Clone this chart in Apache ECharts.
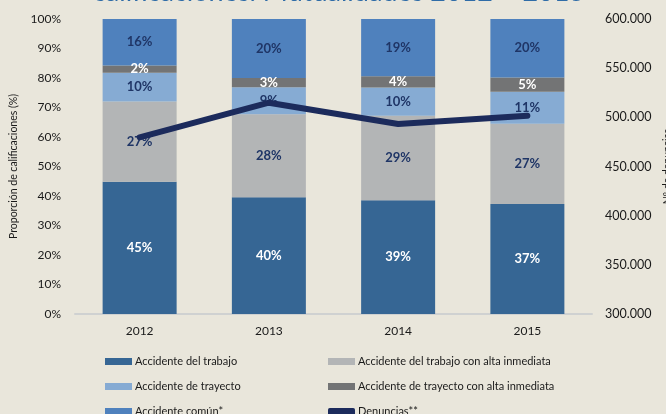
<!DOCTYPE html>
<html>
<head>
<meta charset="utf-8">
<script src="https://cdn.jsdelivr.net/npm/echarts@6/dist/echarts.min.js"></script>
<style>
html,body{margin:0;padding:0;background:#e9e6db;}
#c{width:666px;height:414px;}
</style>
</head>
<body>
<div id="c"></div>
<script>
const years = ['2012', '2013', '2014', '2015'];
const accTrabajo = [44.8, 39.6, 38.6, 37.3];
const accTrabajoAlta = [27.2, 28.1, 28.6, 27.2];
const accTrayecto = [9.8, 9.2, 9.6, 10.8];
const accTrayectoAlta = [2.4, 3.1, 3.8, 4.9];
const accComun = [15.8, 20.0, 19.4, 19.8];
const denuncias = [479700, 514900, 493200, 501700];
const leftTicks = {min: 0, max: 100, interval: 10};
const rightTicks = {min: 300000, max: 600000, interval: 50000};
const titleText = 'calificaciones. Mutualidades 2012 – 2015';

const FONT = 'Lato';
const navy = '#1f3566';

function barSeries(name, data, color, labelColor) {
  return {
    name: name, type: 'bar', stack: 'total', data: data, barWidth: 74,
    itemStyle: {color: color},
    label: {
      show: true, position: 'inside', color: labelColor,
      fontFamily: FONT, fontWeight: 'bold', fontSize: 13,
      formatter: p => Math.round(p.value) + '%'
    },
    z: 2
  };
}

const legendText = {fontFamily: FONT, fontSize: 11, color: '#1a1a1a', lineHeight: 15, padding: [0, 0, 0, -2]};

const chart = echarts.init(document.getElementById('c'));
chart.setOption({
  backgroundColor: '#e9e6db',
  animation: false,
  graphic: [{
    type: 'text', x: 339, y: -21, z: 100,
    style: {
      text: titleText, fill: '#2f6ca7',
      font: 'normal 27px Lato', align: 'center', verticalAlign: 'top'
    }
  }],
  grid: {left: 75, right: 74, top: 19, bottom: 100, containLabel: false, outerBoundsMode: 'none'},
  xAxis: {
    type: 'category', data: years,
    axisLine: {lineStyle: {color: '#cfd1d1', width: 2}},
    axisTick: {show: false},
    axisLabel: {fontFamily: FONT, fontSize: 12, color: '#1a1a1a', margin: 11}
  },
  yAxis: [
    {
      type: 'value', min: leftTicks.min, max: leftTicks.max, interval: leftTicks.interval,
      name: 'Proporción de calificaciones (%)', nameLocation: 'middle', nameGap: 49,
      nameTextStyle: {fontFamily: FONT, fontSize: 10.5, color: '#1a1a1a'},
      axisLine: {show: false}, axisTick: {show: false}, splitLine: {show: false},
      axisLabel: {fontFamily: FONT, fontSize: 12, color: '#1a1a1a', margin: 14, formatter: '{value}%'}
    },
    {
      type: 'value', min: rightTicks.min, max: rightTicks.max, interval: rightTicks.interval,
      name: 'Nº de denuncias', nameLocation: 'middle', nameGap: 66,
      nameTextStyle: {fontFamily: FONT, fontSize: 10.5, color: '#1a1a1a'},
      axisLine: {show: false}, axisTick: {show: false}, splitLine: {show: false},
      axisLabel: {fontFamily: FONT, fontSize: 12.5, color: '#1a1a1a', margin: 13,
        formatter: v => String(v).replace(/\B(?=(\d{3})+(?!\d))/g, '.')}
    }
  ],
  legend: [
    {
      orient: 'vertical', left: 100, top: 349, height: 120, itemWidth: 27, itemHeight: 7, itemGap: 10,
      icon: 'rect', textStyle: legendText,
      data: ['Accidente del trabajo', 'Accidente de trayecto', 'Accidente común*']
    },
    {
      orient: 'vertical', left: 323, top: 349, height: 120, itemWidth: 27, itemHeight: 7, itemGap: 10,
      icon: 'rect', textStyle: legendText,
      data: ['Accidente del trabajo con alta inmediata', 'Accidente de trayecto con alta inmediata',
        {name: 'Denuncias**', icon: 'roundRect'}]
    }
  ],
  series: [
    barSeries('Accidente del trabajo', accTrabajo, '#366694', '#ffffff'),
    barSeries('Accidente del trabajo con alta inmediata', accTrabajoAlta, '#b3b5b6', navy),
    barSeries('Accidente de trayecto', accTrayecto, '#86abd3', navy),
    barSeries('Accidente de trayecto con alta inmediata', accTrayectoAlta, '#737475', '#ffffff'),
    barSeries('Accidente común*', accComun, '#4f81bd', navy),
    {
      name: 'Denuncias**', type: 'line', yAxisIndex: 1, data: denuncias,
      symbol: 'none', z: 10,
      lineStyle: {color: '#1c2b5c', width: 6, cap: 'round', join: 'round'},
      itemStyle: {color: '#1c2b5c'}
    }
  ]
});
</script>
</body>
</html>
